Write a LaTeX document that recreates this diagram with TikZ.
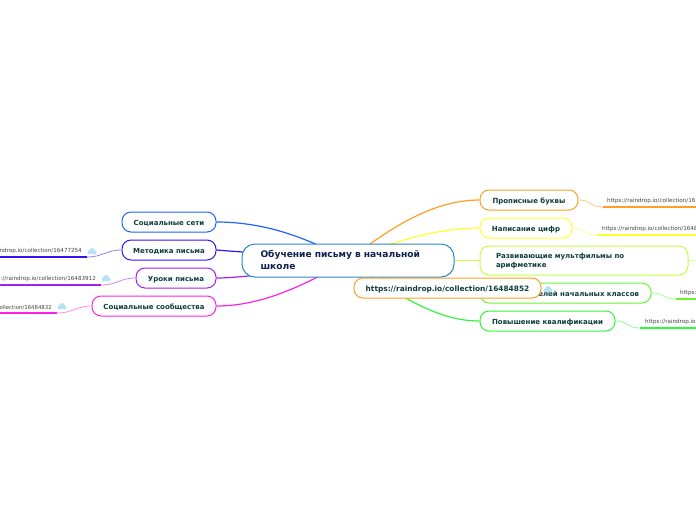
\documentclass[tikz,border=0pt]{standalone}
\usepackage{fontspec}
\usetikzlibrary{backgrounds}
\setmainfont{DejaVu Sans}
\definecolor{rootblue}{HTML}{2A86C8}
\definecolor{roottext}{HTML}{10204F}
\definecolor{nodetext}{HTML}{0F3D3D}
\definecolor{leaftext}{HTML}{444444}
\definecolor{iconblue}{HTML}{B5E2F5}
\definecolor{socialblue}{HTML}{1F63FF}
\definecolor{methodblue}{HTML}{3A10F0}
\definecolor{lessonpurple}{HTML}{A51FF0}
\definecolor{grouppink}{HTML}{FF22E6}
\definecolor{capsorange}{HTML}{FF9F26}
\definecolor{digityellow}{HTML}{FFFF30}
\definecolor{cartoonlime}{HTML}{C4FF45}
\definecolor{teachgreen}{HTML}{66F530}
\definecolor{skillgreen}{HTML}{33F53A}
\tikzset{
    topic/.style={draw=#1, line width=1pt, rounded corners=9pt, fill=white, text=nodetext, font=\bfseries\fontsize{7}{9.2}\selectfont, inner sep=0pt, minimum height=20pt},
    oneline/.style={text height=7.5pt, text depth=1pt},
    leaf/.style={text=leaftext, font=\fontsize{5.6}{6}\selectfont, inner sep=0pt, minimum height=11pt},
    curve/.style={#1, line width=1.2pt},
    twig/.style={#1!55, line width=0.8pt},
    rule/.style={#1, line width=1.6pt}
}
\begin{document}
\begin{tikzpicture}[x=1pt, y=-1pt]
    \useasboundingbox (0,0) rectangle (696,520);
    \coordinate (edgeleft) at (0,261);
    \coordinate (edgeright) at (696,261);
    % topics and the central node
    \node[topic=socialblue, oneline, minimum width=94pt] (social) at (169,222) {Социальные сети};
    \node[topic=methodblue, oneline, minimum width=94pt] (method) at (169,250) {Методика письма};
    \node[topic=lessonpurple, oneline, minimum width=80pt] (lessons) at (176,278) {Уроки письма};
    \node[topic=grouppink, oneline, minimum width=124pt] (groups) at (154,306) {Социальные сообщества};
    \node[topic=capsorange, oneline, minimum width=98pt] (caps) at (529,200) {Прописные буквы};
    \node[topic=digityellow, oneline, minimum width=92pt] (digits) at (526,228) {Написание цифр};
    \node[topic=cartoonlime, text depth=9pt, minimum width=208pt, minimum height=29pt, text width=176pt, align=left] (cartoons) at (584,260.5) {Развивающие мультфильмы по\\арифметике};
    \node[topic=teachgreen, oneline, minimum width=171pt, text width=147pt, align=right] (teachers) at (565.5,293) {елей начальных классов};
    \node[topic=skillgreen, oneline, minimum width=135pt] (skills) at (547.5,321) {Повышение квалификации};
    \node[topic=rootblue, text depth=12.5pt, minimum width=212pt, minimum height=33pt, rounded corners=13pt, text=roottext, text width=175pt, align=left, font=\bfseries\fontsize{9.1}{11.5}\selectfont] (root) at (348,260.5) {Обучение письму в начальной\\школе};
    % links to the collections
    \node[leaf, anchor=south east] (methodurl) at (82,257) {ndrop.io/collection/16477254};
    \node[leaf, anchor=south east] (lessonsurl) at (96,285) {://raindrop.io/collection/16483912};
    \node[leaf, anchor=south east, font=\fontsize{5.4}{6}\selectfont] (groupsurl) at (52,313) {ollection/16484832};
    \node[leaf, anchor=south west] (capsurl) at (607,207) {https://raindrop.io/collection/16};
    \node[leaf, anchor=south west] (digitsurl) at (602,235) {https://raindrop.io/collection/1648};
    \node[leaf, anchor=south west] (teachersurl) at (680,299) {https:};
    \node[leaf, anchor=south west] (skillsurl) at (645,328) {https://raindrop.io};
    % everything that runs behind the nodes
    \begin{scope}[on background layer]
        \draw[curve=socialblue] (social.east) .. controls (262,222) and (305,236) .. (root.center);
        \draw[curve=methodblue] (method.east) .. controls (240,252) and (290,255) .. (root.center);
        \draw[curve=lessonpurple] (lessons.east) .. controls (240,278) and (290,272) .. (root.center);
        \draw[curve=grouppink] (groups.east) .. controls (262,306) and (305,285) .. (root.center);
        \draw[curve=capsorange] (caps.west) .. controls (430,200) and (385,232) .. (root.center);
        \draw[curve=digityellow] (digits.west) .. controls (440,228) and (395,240) .. (root.center);
        \draw[curve=cartoonlime] (cartoons.west) -- (root.center);
        \draw[curve=teachgreen] (teachers.west) .. controls (430,293) and (390,285) .. (root.center);
        \draw[curve=skillgreen] (skills.west) .. controls (445,321) and (410,305) .. (root.center);
        \draw[twig=cartoonlime] (cartoons.east) -- (edgeright);
    \end{scope}
    \draw[twig=methodblue] (method.west) .. controls (106,250) and (103,257) .. ([xshift=5pt]methodurl.south east);
    \draw[twig=lessonpurple] (lessons.west) .. controls (120,278) and (117,285) .. ([xshift=5pt]lessonsurl.south east);
    \draw[twig=grouppink] (groups.west) .. controls (76,306) and (73,313) .. ([xshift=5pt]groupsurl.south east);
    \draw[twig=capsorange] (caps.east) .. controls (592,200) and (589,207) .. ([xshift=-4pt]capsurl.south west);
    \draw[twig=digityellow] (digits.east) .. controls (586,228) and (583,235) .. ([xshift=-5pt]digitsurl.south west);
    \draw[twig=teachgreen] (teachers.east) .. controls (665,293) and (662,299) .. ([xshift=-4pt]teachersurl.south west);
    \draw[twig=skillgreen] (skills.east) .. controls (629,321) and (626,328) .. ([xshift=-5pt]skillsurl.south west);
    \draw[rule=methodblue] ([xshift=5pt]methodurl.south east) -- (edgeleft |- methodurl.south);
    \draw[rule=lessonpurple] ([xshift=5pt]lessonsurl.south east) -- (edgeleft |- lessonsurl.south);
    \draw[rule=grouppink] ([xshift=5pt]groupsurl.south east) -- (edgeleft |- groupsurl.south);
    \draw[rule=capsorange] ([xshift=-4pt]capsurl.south west) -- (edgeright |- capsurl.south);
    \draw[rule=digityellow] ([xshift=-5pt]digitsurl.south west) -- (edgeright |- digitsurl.south);
    \draw[rule=teachgreen] ([xshift=-4pt]teachersurl.south west) -- (edgeright |- teachersurl.south);
    \draw[rule=skillgreen] ([xshift=-5pt]skillsurl.south west) -- (edgeright |- skillsurl.south);
    % cloud marks
    \foreach \cx/\cy in {92/251, 106/278, 62/306, 548/289} {
        \fill[iconblue] (\cx,\cy) circle (3pt) (\cx-2.5,\cy+1.5) circle (2pt) (\cx+2.5,\cy+1.5) circle (2pt);
    }
    \node[topic=capsorange, oneline, minimum width=187pt, font=\bfseries\fontsize{7.4}{9}\selectfont] (url) at (447.5,288) {https://raindrop.io/collection/16484852};
\end{tikzpicture}
\end{document}
